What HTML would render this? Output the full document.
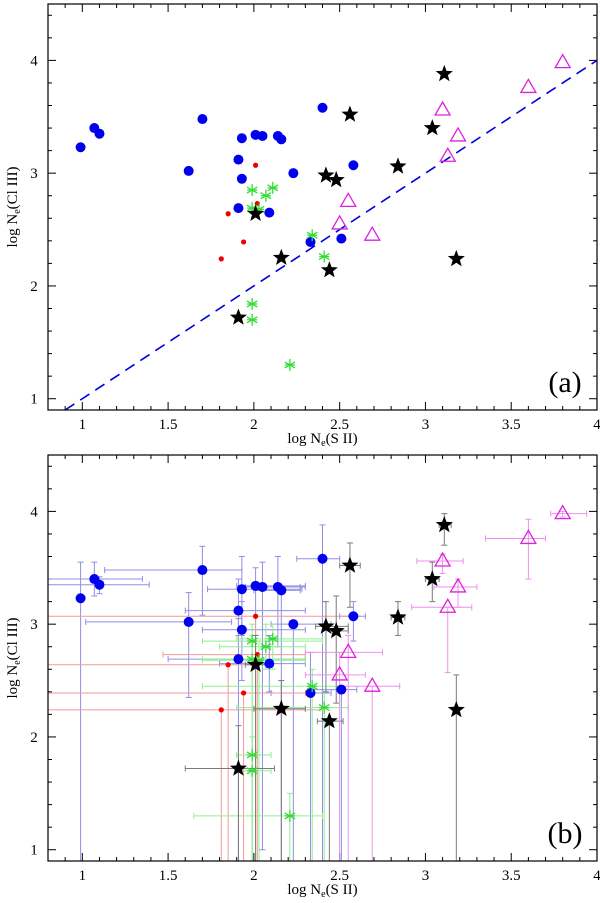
<!DOCTYPE html>
<html><head><meta charset="utf-8"><style>
body{margin:0;background:#fff}
svg{display:block;font-family:"Liberation Serif",serif}
</style></head><body>
<svg id="c" width="600" height="903" xmlns="http://www.w3.org/2000/svg"></svg>
<script>
const xTicks=[1,1.5,2,2.5,3,3.5,4];
const xTickLabels=["1","1.5","2","2.5","3","3.5","4"];
const yTicks=[1,2,3,4];
const yTickLabels=["1","2","3","4"];
const blueX=[0.99,1.07,1.10,1.62,1.70,1.91,1.93,1.93,1.91,2.01,2.05,2.14,2.16,2.23,2.09,2.33,2.51,2.58,2.40];
const blueY=[3.23,3.40,3.35,3.02,3.48,3.12,3.31,2.95,2.69,3.34,3.33,3.33,3.30,3.00,2.65,2.39,2.42,3.07,3.58];
const blueXlo=[0.99,0.8,0.8,1.02,1.13,1.6,1.73,1.7,1.5,1.9,1.95,1.95,2.0,2.1,1.8,2.1,2.35,2.5,2.25];
const blueXhi=[0.99,1.35,1.39,1.87,1.93,2.3,2.28,2.3,2.3,2.3,2.3,2.27,2.27,2.45,2.3,2.45,2.6,2.65,2.5];
const blueYlo=[0.9,3.25,3.27,2.35,3.08,2.9,2.9,2.5,0.9,2.9,1.0,2.8,0.9,0.9,2.4,0.9,0.9,2.85,0.9];
const blueYhi=[3.55,3.55,3.42,3.28,3.69,3.4,3.6,3.2,3.05,3.5,3.55,3.6,3.3,3.0,2.9,2.75,2.42,3.2,3.88];
const redX=[2.01,2.02,1.85,1.94,1.81];
const redY=[3.07,2.73,2.64,2.39,2.24];
const redXlo=[0.8,1.47,0.8,0.8,0.8];
const redXhi=[2.6,2.3,2.0,2.3,2.4];
const redYlo=[0.9,0.9,0.9,0.9,0.9];
const redYhi=[3.07,2.73,2.64,2.39,2.24];
const greenX=[1.99,2.11,2.07,1.99,2.03,2.34,2.41,1.99,1.99,2.21];
const greenY=[2.85,2.87,2.80,2.69,2.68,2.45,2.26,1.84,1.70,1.30];
const greenXlo=[1.7,1.9,1.8,1.7,1.7,1.7,1.9,1.9,1.9,1.65];
const greenXhi=[2.4,2.4,2.3,2.3,2.3,2.5,2.55,2.1,2.1,2.4];
const greenYlo=[0.9,2.6,2.6,0.9,0.9,0.9,0.9,0.9,0.9,0.9];
const greenYhi=[3.0,3.0,3.0,2.9,2.85,2.6,2.4,2.0,2.0,1.5];
const blackX=[2.01,1.91,2.16,2.44,2.42,2.48,2.56,2.84,3.04,3.11,3.18];
const blackY=[2.64,1.72,2.25,2.14,2.98,2.94,3.52,3.06,3.40,3.88,2.24];
const blackXlo=[1.95,1.6,2.0,2.37,2.36,2.45,2.5,2.8,3.0,3.08,3.18];
const blackXhi=[2.1,2.12,2.3,2.52,2.55,2.55,2.62,2.88,3.08,3.15,3.18];
const blackYlo=[0.9,0.9,0.9,0.9,2.4,2.3,3.15,2.9,3.2,3.7,0.9];
const blackYhi=[2.9,2.1,2.5,2.14,3.2,3.25,3.72,3.2,3.55,3.98,2.55];
const magX=[3.80,3.60,3.10,3.19,3.13,2.55,2.50,2.69];
const magY=[3.98,3.76,3.56,3.33,3.15,2.75,2.55,2.45];
const magXlo=[3.73,3.35,2.95,3.05,2.92,2.3,2.3,2.5];
const magXhi=[3.94,3.7,3.22,3.3,3.27,2.75,2.65,2.85];
const magYlo=[3.95,3.4,3.45,3.15,2.57,0.9,0.9,0.9];
const magYhi=[4.0,3.93,3.62,3.4,3.15,2.9,2.75,2.45];

const NS="http://www.w3.org/2000/svg";
const svg=document.getElementById('c');
function mk(t,a,p){const e=document.createElementNS(NS,t);for(const k in a)e.setAttribute(k,a[k]);(p||svg).appendChild(e);return e;}
const X0=0.8,X1=4,Y0=0.9,Y1=4.5,L=48,R=597;
function panel(top,bot,label,withErr,pname){
  const g=mk('g',{});
  
  
  const sx=v=>L+(v-X0)/(X1-X0)*(R-L);
  const sy=v=>bot-(v-Y0)/(Y1-Y0)*(bot-top);
  for(let i=0;i<=32;i++){const v=X0+i*0.1;const px=sx(v);const maj=Math.abs(v*2-Math.round(v*2))<1e-6;const len=maj?8:4;
    mk('line',{x1:px,y1:bot,x2:px,y2:bot-len,stroke:'#000','stroke-width':1},g);
    mk('line',{x1:px,y1:top,x2:px,y2:top+len,stroke:'#000','stroke-width':1},g);}
  for(let i=0;i<=18;i++){const v=Y0+0.1+i*0.2;if(v>Y1+1e-6)break;const py=sy(v);const maj=Math.abs(v-Math.round(v))<1e-6;const len=maj?8:4;
    mk('line',{x1:L,y1:py,x2:L+len,y2:py,stroke:'#000','stroke-width':1},g);
    mk('line',{x1:R,y1:py,x2:R-len,y2:py,stroke:'#000','stroke-width':1},g);}
  xTicks.forEach((v,i)=>{const t=mk('text',{x:sx(v),y:bot+19,'text-anchor':'middle','font-size':15},g);t.textContent=xTickLabels[i];
    
    });
  yTicks.forEach((v,i)=>{const t=mk('text',{x:34,y:sy(v)+5,'text-anchor':'middle','font-size':15},g);t.textContent=yTickLabels[i];
    
    });
  const xt=mk('text',{x:(L+R)/2,y:bot+33,'text-anchor':'middle','font-size':15},g);
  xt.innerHTML='log N<tspan font-size="10" dy="3">e</tspan><tspan dy="-3">(S II)</tspan>';
  
  
  const yt=mk('text',{x:0,y:0,'text-anchor':'middle','font-size':15,transform:`translate(17,${(top+bot)/2}) rotate(-90)`},g);
  yt.innerHTML='log N<tspan font-size="10" dy="3">e</tspan><tspan dy="-3">(Cl III)</tspan>';
  
  
  const pl=mk('text',{x:565,y:bot-18,'text-anchor':'middle','font-size':30},g);pl.textContent=label;
  
  
  if(!withErr){
    const d=mk('line',{x1:sx(0.9),y1:sy(0.9),x2:sx(4),y2:sy(4),stroke:'#0000dd','stroke-width':1.6,'stroke-dasharray':'11,7'},g);
    
    
  }
  const series=[
    ['blue',blueX,blueY,blueXlo,blueXhi,blueYlo,blueYhi,'#8f8fe6'],
    ['red',redX,redY,redXlo,redXhi,redYlo,redYhi,'#f09a9a'],
    ['green',greenX,greenY,greenXlo,greenXhi,greenYlo,greenYhi,'#90ee90'],
    ['black',blackX,blackY,blackXlo,blackXhi,blackYlo,blackYhi,'#7a7a7a'],
    ['magenta',magX,magY,magXlo,magXhi,magYlo,magYhi,'#ee90ee']];
  if(withErr){
    series.forEach(s=>{const [n,xs,ys,xl,xh,yl,yh,col]=s;
      xs.forEach((x,i)=>{const y=ys[i];
        const eg=mk('g',{stroke:col,'stroke-width':1,fill:'none'},g);
        
        
        const a=sx(Math.max(xl[i],X0)),b=sx(xh[i]),c=sy(Math.max(yl[i],Y0)),d=sy(yh[i]),px=sx(x),py=sy(y);
        if(b-a>1){mk('line',{x1:a,y1:py,x2:b,y2:py},eg);
          if(xl[i]>X0)mk('line',{x1:a,y1:py-3,x2:a,y2:py+3},eg);
          mk('line',{x1:b,y1:py-3,x2:b,y2:py+3},eg);}
        if(c-d>1){mk('line',{x1:px,y1:c,x2:px,y2:d},eg);
          mk('line',{x1:px-3,y1:d,x2:px+3,y2:d},eg);
          if(yl[i]>Y0)mk('line',{x1:px-3,y1:c,x2:px+3,y2:c},eg);}
      });});
  }
  function star(cx,cy,r){let p='';for(let k=0;k<10;k++){const rr=k%2?r*0.42:r;const a=-Math.PI/2+k*Math.PI/5;p+=(k?'L':'M')+(cx+rr*Math.cos(a)).toFixed(1)+','+(cy+rr*Math.sin(a)).toFixed(1);}return p+'Z';}
  blueX.forEach((x,i)=>{const e=mk('circle',{cx:sx(x),cy:sy(blueY[i]),r:5,fill:'#0000ee'},g);
    
    });
  redX.forEach((x,i)=>{const e=mk('circle',{cx:sx(x),cy:sy(redY[i]),r:2.6,fill:'#ee0000'},g);
    
    });
  greenX.forEach((x,i)=>{const cx=sx(x),cy=sy(greenY[i]);const e=mk('g',{stroke:'#33dd33','stroke-width':1.3},g);
    
    
    for(let k=0;k<3;k++){const a=Math.PI/2+k*Math.PI/3;mk('line',{x1:cx-6*Math.cos(a),y1:cy-6*Math.sin(a),x2:cx+6*Math.cos(a),y2:cy+6*Math.sin(a)},e);}
    mk('line',{x1:cx-5,y1:cy,x2:cx+5,y2:cy},e);});
  blackX.forEach((x,i)=>{const e=mk('path',{d:star(sx(x),sy(blackY[i]),9),fill:'#000'},g);
    
    });
  magX.forEach((x,i)=>{const cx=sx(x),cy=sy(magY[i]);const e=mk('path',{d:`M${cx},${cy-8}L${cx+7.5},${cy+5}L${cx-7.5},${cy+5}Z`,fill:'none',stroke:'#dd22dd','stroke-width':1.3},g);
    
    });
  const f=mk('rect',{x:L,y:top,width:R-L,height:bot-top,fill:'none',stroke:'#000','stroke-width':1.2},g);
  
  
}
panel(4,410,'(a)',false,'panel-a');
panel(455,861,'(b)',true,'panel-b');
</script>
</body></html>
